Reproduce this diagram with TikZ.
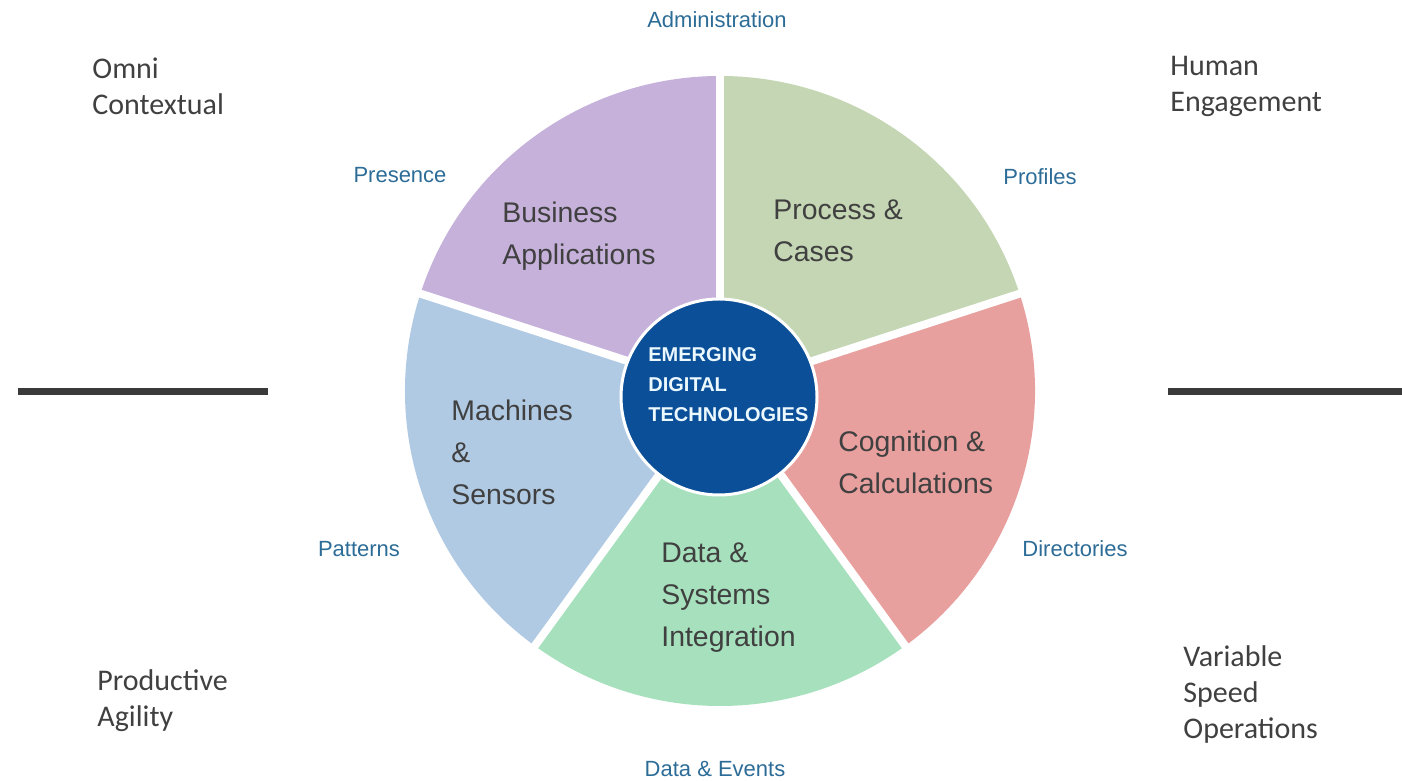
\documentclass[tikz,border=0pt]{standalone}
\usepackage{fontspec}
\setmainfont{Liberation Sans}
\newfontfamily\cornerfont{Carlito}
\usepackage{tikz}
\usetikzlibrary{positioning}

\definecolor{bizpurple}{HTML}{C6B1DB}
\definecolor{procgreen}{HTML}{C4D6B3}
\definecolor{cogpink}{HTML}{E8A09F}
\definecolor{datamint}{HTML}{A6E0BD}
\definecolor{machblue}{HTML}{B1CAE4}
\definecolor{techblue}{HTML}{0B4F99}
\definecolor{labelblue}{HTML}{2C6C97}
\definecolor{textgray}{HTML}{404040}
\definecolor{rulegray}{HTML}{3A3A3A}

\begin{document}
\begin{tikzpicture}[x=0.5pt,y=0.5pt,
    seglabel/.style={anchor=west, align=left, inner sep=0pt, text=textgray,
      font=\fontsize{14.2pt}{21pt}\selectfont},
    rimlabel/.style={text=labelblue, font=\fontsize{11pt}{13pt}\selectfont},
    cornerlabel/.style={anchor=west, align=left, inner sep=0pt, text=textgray,
      font=\cornerfont\fontsize{15pt}{18pt}\selectfont}]
    \useasboundingbox (0,0) rectangle (1402,781);
    \coordinate (hub) at (720,390);

    % Draw pie segments
    \foreach \a/\col in {18/procgreen, 90/bizpurple, 162/machblue, 234/datamint, 306/cogpink} {
      \fill[\col] (hub) -- ++(\a:315) arc[start angle=\a, delta angle=72, radius=315] -- cycle;
    }

    % White gaps between the segments
    \foreach \a in {18, 90, 162, 234, 306} {
      \draw[white, line width=4pt] (hub) -- ++(\a:325);
    }

    % Centre disc
    \node[circle, fill=techblue, draw=white, line width=1.5pt, minimum size=98pt, inner sep=0pt] (core) at (719,384) {};
    \node[anchor=west, align=left, inner sep=0pt, text=white!92!cyan,
      font=\bfseries\fontsize{10pt}{15pt}\selectfont] (coretext) at (648,396)
      {EMERGING\\DIGITAL\\TECHNOLOGIES};

    % Segment labels
    \foreach \n/\x/\y/\t in {business/502/545/{Business\\Applications},
        process/773/550/{Process \&\\Cases},
        cognition/838/319/{Cognition \&\\Calculations},
        datasys/661/183/{Data \&\\Systems\\Integration},
        machines/451/329/{Machines\\\&\\Sensors}} {
      \node[seglabel] (\n) at (\x,\y) {\t};
    }

    % Labels round the rim
    \foreach \n/\x/\y/\t in {admin/717/761/Administration, presence/400/606/Presence,
        profiles/1040/604/Profiles, patterns/359/232/Patterns,
        directories/1075/232/Directories, events/715/12/{Data \& Events}} {
      \node[rimlabel] (\n) at (\x,\y) {\t};
    }

    % Corner labels
    \node[cornerlabel] (omni) at (92,695) {Omni\\Contextual};
    \node[cornerlabel] (human) at (1170,695) {Human\\Engagement};
    \node[cornerlabel] (agility) at (97,80) {Productive\\Agility};
    \node[cornerlabel] (speed) at (1183,86) {Variable\\Speed\\Operations};

    % Horizontal rules
    \coordinate (ruleLA) at (18,389);
    \coordinate (ruleLB) at (268,389);
    \coordinate (ruleRA) at (1168,389);
    \coordinate (ruleRB) at (1402,389);
    \draw[rulegray, line width=3.5pt] (ruleLA) -- (ruleLB);
    \draw[rulegray, line width=3.5pt] (ruleRA) -- (ruleRB);
\end{tikzpicture}
\end{document}
